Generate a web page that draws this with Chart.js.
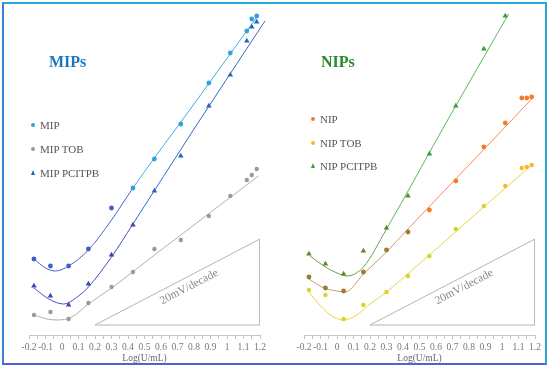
<!DOCTYPE html>
<html><head><meta charset="utf-8">
<script src="https://cdn.jsdelivr.net/npm/chart.js@4/dist/chart.umd.min.js"></script>
<style>
html,body{margin:0;padding:0;background:#fff;}
#wrap{position:relative;width:550px;height:369px;overflow:hidden;font-family:"Liberation Serif","DejaVu Serif",serif;background:#fff;}
.cv{position:absolute;top:0;width:275px;height:369px;}
#frame{position:absolute;left:2px;top:2px;width:541px;height:359px;border:2px solid;border-color:#2aa7d9 #2aa7d9 #4a66d4 #3b7fd6;pointer-events:none;}
.title{position:absolute;font-weight:bold;font-size:16px;line-height:16px;white-space:nowrap;}
.leg{position:absolute;font-size:11px;line-height:11px;color:#555;white-space:nowrap;}
.dot{position:absolute;width:4px;height:4px;border-radius:50%;}
.tri{position:absolute;width:0;height:0;border-left:2.5px solid transparent;border-right:2.5px solid transparent;border-bottom:5px solid;}
</style>
</head><body>
<div id="wrap">
  <div class="cv" style="left:0"><canvas id="c1" width="275" height="369"></canvas></div>
  <div class="cv" style="left:275px"><canvas id="c2" width="275" height="369"></canvas></div>
  <div class="title" style="left:49px;top:54px;color:#1a78c2">MIPs</div>
  <div class="title" style="left:321px;top:54px;color:#2a8a2a">NIPs</div>

  <div class="dot" style="left:31px;top:123px;background:#2fa3dc"></div>
  <div class="leg" style="left:40px;top:119.5px">MIP</div>
  <div class="dot" style="left:31px;top:147px;background:#9a9a9a"></div>
  <div class="leg" style="left:40px;top:143.5px">MIP TOB</div>
  <div class="tri" style="left:30.5px;top:170px;border-bottom-color:#2560c0"></div>
  <div class="leg" style="left:40px;top:167.5px">MIP PCITPB</div>

  <div class="dot" style="left:311px;top:117px;background:#f47a30"></div>
  <div class="leg" style="left:320px;top:113.5px">NIP</div>
  <div class="dot" style="left:311px;top:141px;background:#f5b82a"></div>
  <div class="leg" style="left:320px;top:137.5px">NIP TOB</div>
  <div class="tri" style="left:310.5px;top:163px;border-bottom-color:#3a9e3a"></div>
  <div class="leg" style="left:320px;top:160.5px">NIP PCITPB</div>

  <div id="frame"></div>
</div>
<script>
// ---- data (x = log concentration, y = relative potential) ----
const logConc      = [-0.17,-0.07,0.04,0.16,0.30,0.43,0.56,0.72,0.89,1.02,1.12,1.15,1.18];
const logConcShort = [-0.17,-0.07,0.04,0.16,0.30,0.43,0.56,0.72,0.89,1.02];

const mip        = [76,69,69,86,127,147,176,211,252,282,304,316,319];
const mipTob     = [20,23,16,32,48,63,86,95,119,139,155,160,166];
const mipPcitpb  = [49,39,30,51,80,110,144,179,229,260,294,308,313];

const nip        = [58,47,44,63,85,103,125,154,188,212,237,237,238];
const nipTob     = [45,40,16,30,43,59,79,106,129,149,167,168,170];
const nipPcitpb  = [81,71,61,84,107,139,181,229,286,319];

// fitted curves
const mipFitX       = [-0.17,-0.10,-0.04,0.04,0.16,0.30,0.43,0.80,1.19];
const mipFitY       = [76,67,64,69,85,115,147,231,320];
const mipPcitpbFitX = [-0.17,-0.08,0.01,0.10,0.16,0.30,0.43,0.80,1.23];
const mipPcitpbFitY = [47,36,31,39,48,78,111,206,314];
const mipTobFitX    = [-0.17,-0.09,-0.03,0.06,0.16,0.30,0.60,1.19];
const mipTobFitY    = [20,16,15,18,31,47,85,159];

const nipPcitpbFitX = [-0.164,-0.08,0.0,0.06,0.16,0.30,0.65,1.04];
const nipPcitpbFitY = [79,69,62,59,68,106,209,321];
const nipFitX       = [-0.17,-0.08,0.0,0.05,0.16,0.30,0.43,0.80,1.18];
const nipFitY       = [56,47,44,43,61,83,106,170,236];
const nipTobFitX    = [-0.17,-0.10,-0.03,0.04,0.12,0.20,0.30,0.47,0.80,1.18];
const nipTobFitY    = [43,29,19,15,20,31,43,67,115,170];

// 20 mV/decade reference triangle
const triX = [0.2,1.2,1.2,0.2];
const triY = [10,96,10,10];
const slopeLabel = '20mV/decade';
const labelPos = [0.77,48];

const xTickLabels = ['-0.2','-0.1','0','0.1','0.2','0.3','0.4','0.5','0.6','0.7','0.8','0.9','1','1.1','1.2'];

function pts(xs, ys){ return xs.map((x,i)=>({x:x,y:ys[i]})); }

function scatter(label, xs, ys, style, lo, hi, thr, r){
  return {label, type:'line', data:pts(xs,ys), showLine:false, order:0,
    pointStyle:style, pointRadius:r, pointHoverRadius:r, pointBorderWidth:0,
    pointBackgroundColor: c => (c.parsed && c.parsed.x < thr) ? lo : hi,
    pointBorderColor: c => (c.parsed && c.parsed.x < thr) ? lo : hi};
}
function fit(xs, ys, lo, hi, thr){
  return {type:'line', data:pts(xs,ys), order:1, pointRadius:0, borderWidth:1,
    borderColor:hi, cubicInterpolationMode:'monotone', clip:false,
    segment:{borderColor: c => c.p0.parsed.x < thr ? lo : hi}};
}
function triangle(){
  return {type:'line', data:pts(triX,triY), order:2, pointRadius:0, borderWidth:1,
    borderColor:'#b4b4b4', tension:0};
}

const slopeText = {
  id:'slopeText',
  afterDatasetsDraw(chart){
    const xs = chart.scales.x, ys = chart.scales.y, ctx = chart.ctx;
    const ax = xs.getPixelForValue(triX[0]), ay = ys.getPixelForValue(triY[0]);
    const bx = xs.getPixelForValue(triX[1]), by = ys.getPixelForValue(triY[1]);
    const ang = Math.atan2(by-ay, bx-ax);
    ctx.save();
    ctx.translate(xs.getPixelForValue(labelPos[0]), ys.getPixelForValue(labelPos[1]));
    ctx.rotate(ang);
    ctx.fillStyle = '#8a8a8a';
    ctx.font = '11.5px "Liberation Serif", serif';
    ctx.textAlign = 'center'; ctx.textBaseline = 'middle';
    ctx.fillText(slopeLabel, 0, 0);
    ctx.restore();
  }
};

function makeChart(id, datasets){
  return new Chart(document.getElementById(id), {
    type:'line',
    data:{datasets},
    plugins:[slopeText],
    options:{
      responsive:false, animation:false, events:[],
      layout:{padding:{left:29,right:15,top:5,bottom:0}},
      plugins:{legend:{display:false}, tooltip:{enabled:false}},
      scales:{
        x:{type:'linear', min:-0.2, max:1.2,
          afterFit(s){ s.height = 34; },
          afterBuildTicks(s){ const t=[]; for(let i=0;i<=28;i++){ t.push({value:-0.2+i*0.05}); } s.ticks=t; },
          ticks:{autoSkip:false, maxRotation:0, padding:3, color:'#777',
            font:{family:'"Liberation Serif", serif', size:9.5},
            callback(v, i){ return (i % 2 === 0) ? xTickLabels[i/2] : ''; }},
          grid:{display:true, drawOnChartArea:false, drawTicks:true, tickLength:4, color:'#c4c4c4'},
          border:{display:true, color:'#c4c4c4', width:1},
          title:{display:true, text:'Log(U/mL)', color:'#666', padding:{top:0,bottom:5},
            font:{family:'"Liberation Serif", serif', size:9.5}}
        },
        y:{type:'linear', min:0, max:330, display:false}
      }
    }
  });
}

makeChart('c1', [
  scatter('MIP', logConc, mip, 'circle', '#3e62c4', '#2fa3dc', 0.35, 2.4),
  scatter('MIP TOB', logConc, mipTob, 'circle', '#9a9a9a', '#9a9a9a', 0, 2.2),
  scatter('MIP PCITPB', logConc, mipPcitpb, 'triangle', '#3a46b4', '#2466bd', 0.5, 3.2),
  fit(mipFitX, mipFitY, '#4a62c8', '#41ade0', 0.4),
  fit(mipTobFitX, mipTobFitY, '#b0b0b0', '#b0b0b0', 0),
  fit(mipPcitpbFitX, mipPcitpbFitY, '#4450bc', '#2f6cc4', 0.4),
  triangle()
]);

makeChart('c2', [
  scatter('NIP', logConc, nip, 'circle', '#a07a30', '#f47a30', 0.5, 2.4),
  scatter('NIP TOB', logConc, nipTob, 'circle', '#d6d52a', '#f5b82a', 1.0, 2.2),
  scatter('NIP PCITPB', logConcShort, nipPcitpb, 'triangle', '#5a8a30', '#3a9e3a', 0.5, 3.2),
  fit(nipFitX, nipFitY, '#c4a060', '#f58a5a', 0.43),
  fit(nipTobFitX, nipTobFitY, '#e2d83a', '#f0c040', 1.0),
  fit(nipPcitpbFitX, nipPcitpbFitY, '#6aa050', '#5cb85c', 0.3),
  triangle()
]);
</script>
</body></html>
